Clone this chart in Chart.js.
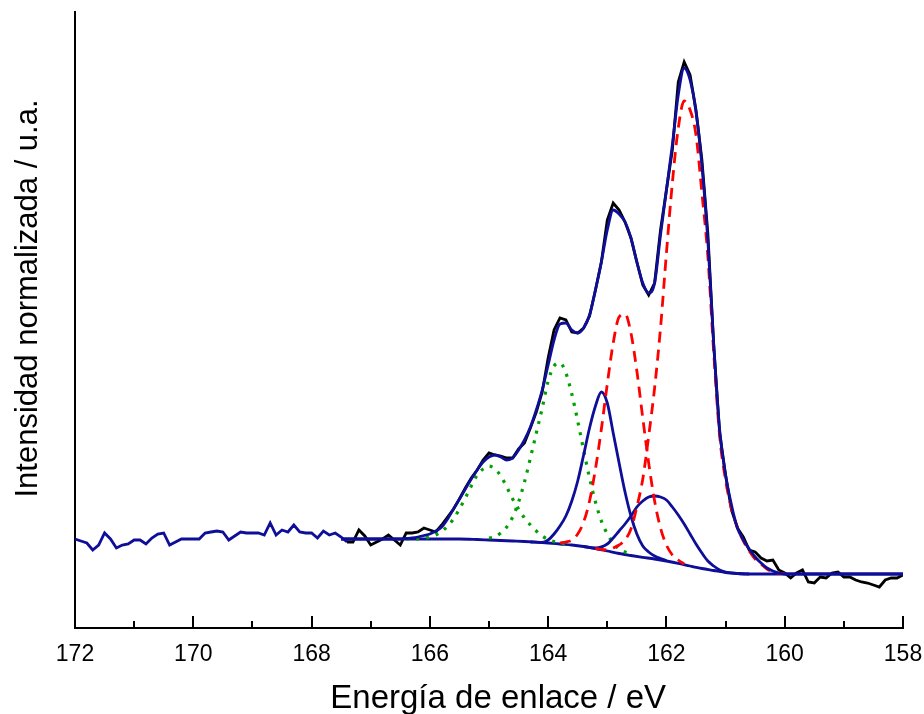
<!DOCTYPE html>
<html>
<head>
<meta charset="utf-8">
<title>XPS S 2p</title>
<script src="https://cdn.jsdelivr.net/npm/chart.js@4.4.0/dist/chart.umd.min.js"></script>
<style>
    html, body { margin: 0; padding: 0; background: #fff; }
</style>
</head>
<body>
<canvas id="xpsChart" width="924" height="714"></canvas>
<script>
// Measured spectrum, binding energy (eV) and normalised intensity (a.u.)
const rawEnergy = [
    172.0, 171.9, 171.8, 171.7, 171.6, 171.5, 171.4, 171.3, 171.2, 171.1,
    171.0, 170.9, 170.8, 170.7, 170.6, 170.5, 170.4, 170.3, 170.2, 170.1,
    170.0, 169.9, 169.8, 169.7, 169.6, 169.5, 169.4, 169.3, 169.2, 169.1,
    169.0, 168.9, 168.8, 168.7, 168.6, 168.5, 168.4, 168.3, 168.2, 168.1,
    168.0, 167.9, 167.8, 167.7, 167.6, 167.5, 167.4, 167.3, 167.2, 167.1,
    167.0, 166.9, 166.8, 166.7, 166.6, 166.5, 166.4, 166.3, 166.2, 166.1,
    166.0, 165.9, 165.8, 165.7, 165.6, 165.5, 165.4, 165.3, 165.2, 165.1,
    165.0, 164.9, 164.8, 164.7, 164.6, 164.5, 164.4, 164.3, 164.2, 164.1,
    164.0, 163.9, 163.8, 163.7, 163.6, 163.5, 163.4, 163.3, 163.2, 163.1,
    163.0, 162.9, 162.8, 162.7, 162.6, 162.5, 162.4, 162.3, 162.2, 162.1,
    162.0, 161.9, 161.8, 161.7, 161.6, 161.5, 161.4, 161.3, 161.2, 161.1,
    161.0, 160.9, 160.8, 160.7, 160.6, 160.5, 160.4, 160.3, 160.2, 160.1,
    160.0, 159.9, 159.8, 159.7, 159.6, 159.5, 159.4, 159.3, 159.2, 159.1,
    159.0, 158.9, 158.8, 158.7, 158.6, 158.5, 158.4, 158.3, 158.2, 158.1,
    158.0
];
const rawIntensity = [
    89, 87, 85, 78, 83, 95, 89, 80, 83, 84,
    88, 88, 84, 90, 94, 95, 83, 86, 89, 89,
    89, 89, 95, 96, 97, 96, 88, 92, 96, 95,
    95, 95, 93, 105, 93, 98, 96, 103, 96, 95,
    95, 90, 97, 93, 95, 91, 86, 86, 98, 92,
    83, 86, 89, 93, 88, 83, 95, 95, 96, 100,
    98, 96, 103, 111, 119, 129, 140, 150, 158, 168,
    175, 173, 172, 170, 170, 179, 185, 200, 216, 236,
    270, 298, 310, 308, 296, 295, 300, 312, 338, 366,
    408, 425, 418, 406, 390, 366, 343, 333, 345, 398,
    438, 478, 546, 566, 553, 518, 468, 395, 283, 195,
    153, 118, 100, 91, 78, 76, 70, 67, 68, 58,
    55, 50, 55, 58, 46, 45, 51, 50, 55, 56,
    51, 51, 48, 46, 45, 43, 41, 48, 50, 50,
    53
];

// Fit envelope
const fitEnergy = [
    167.5, 167.4, 167.3, 167.2, 167.1, 167.0, 166.9, 166.8, 166.7, 166.6,
    166.5, 166.4, 166.3, 166.2, 166.1, 166.0, 165.9, 165.8, 165.7, 165.6,
    165.5, 165.4, 165.3, 165.2, 165.1, 165.0, 164.9, 164.8, 164.7, 164.6,
    164.5, 164.4, 164.3, 164.2, 164.1, 164.0, 163.9, 163.8, 163.7, 163.6,
    163.5, 163.4, 163.3, 163.2, 163.1, 163.0, 162.9, 162.8, 162.7, 162.6,
    162.5, 162.4, 162.3, 162.2, 162.1, 162.0, 161.9, 161.8, 161.7, 161.6,
    161.5, 161.4, 161.3, 161.2, 161.1, 161.0, 160.9, 160.8, 160.7, 160.6,
    160.5, 160.4, 160.3, 160.2, 160.1, 160.0, 159.0, 158.0
];
const fitIntensity = [
    89, 89, 89, 89, 89, 89, 89, 89, 89, 89,
    89, 89.5, 90, 91, 92.5, 94, 97, 101, 109, 119,
    129, 139, 149, 158, 166, 171, 173, 171, 168, 170,
    178, 188, 201, 218, 238, 263, 288, 304, 305, 298,
    295, 300, 313, 338, 366, 398, 418, 414, 406, 390,
    366, 345, 335, 345, 393, 438, 483, 533, 560, 548,
    516, 463, 388, 283, 198, 153, 123, 100, 88, 79,
    71, 65, 60, 57, 55, 54, 54, 54
];

// Shirley background
const bgEnergy = [
    167.5, 167.0, 166.5, 166.0, 165.5, 165.2, 165.0, 164.8, 164.6, 164.4,
    164.2, 164.0, 163.8, 163.6, 163.4, 163.2, 163.0, 162.8, 162.6, 162.4,
    162.2, 162.0, 161.8, 161.6, 161.4, 161.2, 161.0, 160.8, 160.6, 160.0,
    159.0, 158.0
];
const bgIntensity = [
    89, 89, 89, 89, 89, 88.5, 88, 87.5, 87, 86.5,
    85.8, 85, 84, 83, 81.5, 79.5, 77, 74.5, 72.5, 70.7,
    69, 67, 64.7, 62, 59.5, 57.5, 55.5, 54.5, 54, 54,
    54, 54
];

// Doublet components (background included)
const greenAEnergy = [166.4, 166.2, 166.0, 165.9, 165.8, 165.7, 165.6, 165.5, 165.4, 165.3, 165.2, 165.1, 165.0,
    164.9, 164.8, 164.7, 164.6, 164.5, 164.4, 164.3, 164.2, 164.1, 164.0, 163.8, 163.6];
const greenAIntensity = [89, 89, 91, 93, 96.5, 102, 109, 119, 130, 142, 153, 159, 162,
    159, 152, 141, 129, 119, 110, 103, 97, 92, 88.5, 85, 83.5];

const greenBEnergy = [165.0, 164.9, 164.8, 164.7, 164.6, 164.5, 164.4, 164.3, 164.2, 164.1, 164.0, 163.9, 163.8,
    163.7, 163.6, 163.5, 163.4, 163.3, 163.2, 163.1, 163.0, 162.9, 162.8, 162.7, 162.6];
const greenBIntensity = [90, 91, 95, 101, 111, 126, 146, 170, 195, 220, 247, 262, 265,
    255, 234, 207, 178, 150, 126, 107, 94, 85, 79, 76, 73];

const redCEnergy = [163.8, 163.7, 163.6, 163.5, 163.4, 163.3, 163.2, 163.1, 163.0, 162.9, 162.8,
    162.7, 162.6, 162.5, 162.4, 162.3, 162.2, 162.1, 162.0, 161.9, 161.8, 161.7];
const redCIntensity = [85, 86, 88, 94, 106, 127, 159, 199, 244, 285, 311,
    314, 295, 257, 210, 165, 127, 100, 83, 73, 68, 64];

const redDEnergy = [163.2, 163.0, 162.9, 162.8, 162.7, 162.6, 162.5, 162.4, 162.3, 162.2, 162.1, 162.0,
    161.9, 161.8, 161.7, 161.6, 161.5, 161.4, 161.3, 161.2, 161.1, 161.0, 160.9, 160.8,
    160.7, 160.6, 160.5, 160.4, 160.3, 160.2, 160.0];
const redDIntensity = [79.5, 78, 80, 83, 88, 99, 121, 149, 192, 240, 300, 375,
    445, 500, 527, 518, 493, 435, 372, 275, 192, 148, 119, 101,
    87, 77, 69, 64, 59, 56, 54];

const blueEEnergy = [164.3, 164.1, 164.0, 163.9, 163.8, 163.7, 163.6, 163.5, 163.4, 163.3, 163.2, 163.1,
    163.0, 162.9, 162.8, 162.7, 162.6, 162.5, 162.4, 162.3, 162.2, 162.1, 162.0];
const blueEIntensity = [86, 85.5, 88, 94, 102, 112, 127, 147, 173, 200, 222, 236,
    225, 195, 165, 136, 112, 94, 82, 76, 72, 69.5, 67.5];

const blueFEnergy = [163.4, 163.2, 163.0, 162.9, 162.8, 162.7, 162.6, 162.5, 162.4, 162.3, 162.2, 162.1,
    162.0, 161.9, 161.8, 161.7, 161.6, 161.5, 161.4, 161.3, 161.2, 161.1, 161.0, 160.8, 160.6];
const blueFIntensity = [81.5, 80, 84, 90, 97, 104, 112, 121, 127, 131, 132, 131,
    128, 121, 113, 104, 94, 84, 75, 67, 62, 58, 56, 54.5, 54];

const xTickLabels = ['158', '160', '162', '164', '166', '168', '170', '172'];
const minorTicks = [159, 161, 163, 165, 167, 169, 171];

const BLUE = '#0e0e98';
const BLACK = '#000000';
const RED = '#ff0000';
const GREEN = '#00a000';
const FIT_START = 167.45;

function toPoints(xs, ys) {
    return xs.map((x, i) => ({ x: x, y: ys[i] }));
}

// inward tick marks on the energy axis
const innerTicks = {
    id: 'innerTicks',
    afterDraw(chart) {
        const { ctx, chartArea } = chart;
        const xScale = chart.scales.x;
        ctx.save();
        ctx.strokeStyle = BLACK;
        ctx.lineWidth = 2;
        const drawTick = (value, len) => {
            const px = Math.round(xScale.getPixelForValue(value));
            ctx.beginPath();
            ctx.moveTo(px, chartArea.bottom);
            ctx.lineTo(px, chartArea.bottom - len);
            ctx.stroke();
        };
        xTickLabels.forEach(t => drawTick(Number(t), 12));
        minorTicks.forEach(t => drawTick(t, 7));
        ctx.restore();
    }
};

Chart.defaults.font.family = "'Liberation Sans', Arial, sans-serif";
Chart.defaults.color = BLACK;

const lineBase = { pointRadius: 0, fill: false, borderWidth: 2.8 };

new Chart(document.getElementById('xpsChart'), {
    type: 'line',
    data: {
        datasets: [
            {
                ...lineBase,
                label: 'Envolvente',
                data: toPoints(fitEnergy, fitIntensity),
                borderColor: BLUE,
                cubicInterpolationMode: 'monotone'
            },
            {
                ...lineBase,
                label: 'S 2p3/2 (1)',
                data: toPoints(redDEnergy, redDIntensity),
                borderColor: RED,
                borderDash: [11, 7],
                cubicInterpolationMode: 'monotone'
            },
            {
                ...lineBase,
                label: 'S 2p1/2 (1)',
                data: toPoints(redCEnergy, redCIntensity),
                borderColor: RED,
                borderDash: [11, 7],
                cubicInterpolationMode: 'monotone'
            },
            {
                ...lineBase,
                label: 'S 2p3/2 (2)',
                data: toPoints(blueFEnergy, blueFIntensity),
                borderColor: BLUE,
                cubicInterpolationMode: 'monotone'
            },
            {
                ...lineBase,
                label: 'S 2p1/2 (2)',
                data: toPoints(blueEEnergy, blueEIntensity),
                borderColor: BLUE,
                cubicInterpolationMode: 'monotone'
            },
            {
                ...lineBase,
                label: 'S 2p3/2 (3)',
                data: toPoints(greenBEnergy, greenBIntensity),
                borderColor: GREEN,
                borderWidth: 3.2,
                borderDash: [3, 7],
                cubicInterpolationMode: 'monotone'
            },
            {
                ...lineBase,
                label: 'S 2p1/2 (3)',
                data: toPoints(greenAEnergy, greenAIntensity),
                borderColor: GREEN,
                borderWidth: 3.2,
                borderDash: [3, 7],
                cubicInterpolationMode: 'monotone'
            },
            {
                ...lineBase,
                label: 'Fondo',
                data: toPoints(bgEnergy, bgIntensity),
                borderColor: BLUE,
                cubicInterpolationMode: 'monotone'
            },
            {
                ...lineBase,
                label: 'Experimental',
                data: toPoints(rawEnergy, rawIntensity),
                borderColor: BLACK,
                tension: 0,
                segment: {
                    borderColor: c => (c.p0.parsed.x > FIT_START ? BLUE : BLACK)
                }
            }
        ]
    },
    options: {
        responsive: false,
        animation: false,
        layout: { padding: { top: 12, right: 21, left: 0, bottom: 0 } },
        plugins: {
            legend: { display: false },
            tooltip: { enabled: false }
        },
        scales: {
            x: {
                type: 'linear',
                reverse: true,
                min: 158,
                max: 172,
                grid: { display: false, drawTicks: false },
                border: { display: true, color: BLACK, width: 2 },
                ticks: {
                    stepSize: 2,
                    padding: 13,
                    autoSkip: false,
                    maxRotation: 0,
                    font: { size: 23 },
                    callback: v => (xTickLabels.includes(String(v)) ? String(v) : '')
                },
                title: {
                    display: true,
                    text: '\u00a0\u00a0Energía de enlace / eV',
                    font: { size: 33, lineHeight: 0.9 },
                    padding: { top: 0, bottom: 0 }
                },
                afterFit: scale => {
                    scale.height = 86;
                    scale.paddingLeft = 0;
                    scale.paddingRight = 0;
                }
            },
            y: {
                min: 0,
                max: 616,
                grid: { display: false, drawTicks: false },
                border: { display: true, color: BLACK, width: 2 },
                ticks: { display: false },
                title: {
                    display: true,
                    text: '\u00a0\u00a0\u00a0\u00a0\u00a0Intensidad normalizada / u.a.',
                    font: { size: 31 },
                    padding: { top: 10, bottom: 10 }
                },
                afterFit: scale => { scale.width = 75; }
            }
        }
    },
    plugins: [innerTicks]
});
</script>
</body>
</html>
